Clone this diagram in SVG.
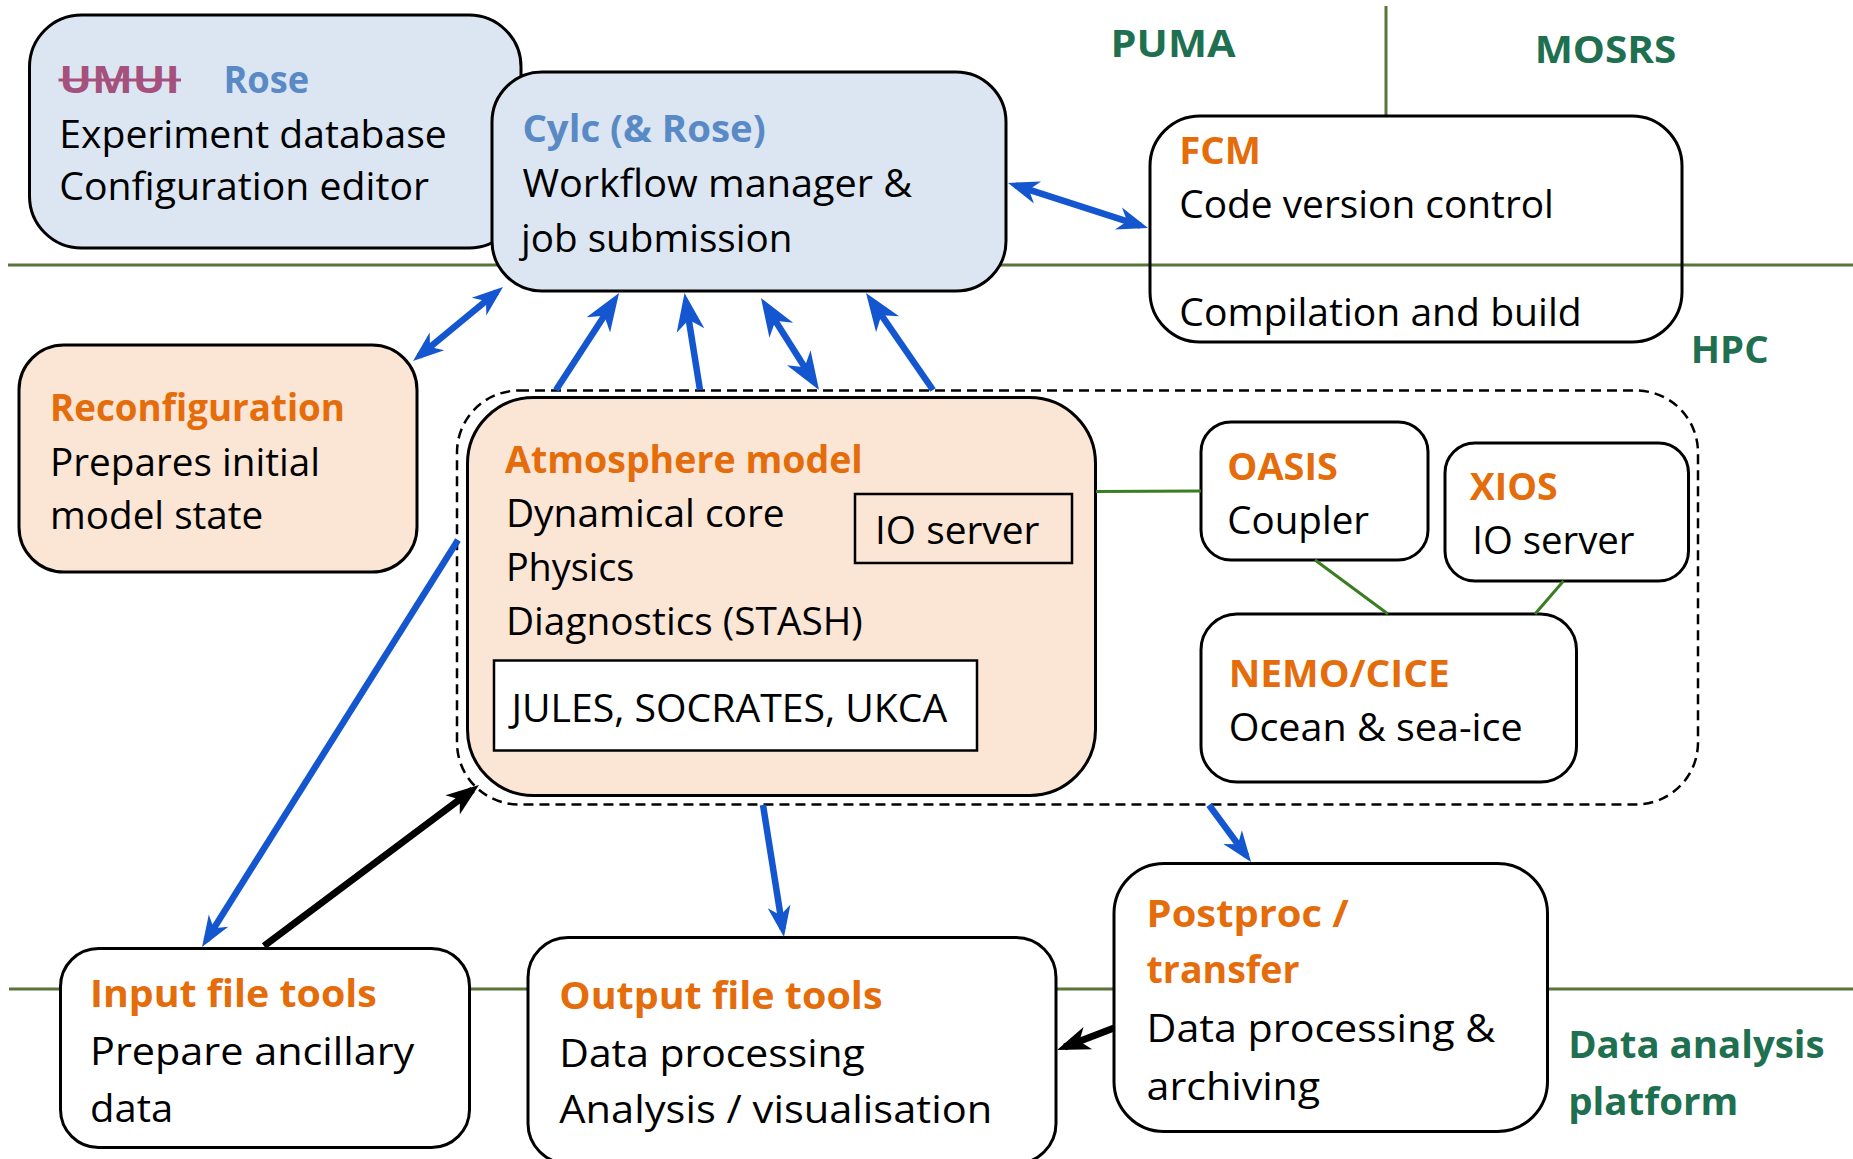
<svg xmlns="http://www.w3.org/2000/svg" width="1853" height="1159" viewBox="0 0 1853 1159">
<style>
text{font-family:"Open Sans","Noto Sans","Liberation Sans",sans-serif;font-size:38px;fill:#000}
.t{font-weight:700;fill:#e46c0a}
.b{font-weight:700;fill:#5a8ac6}
.g{font-weight:700;fill:#1f7050}
.u{font-weight:700;fill:#a5517e}
.box{stroke:#000;stroke-width:3}
.bl{fill:#dce6f2}
.pe{fill:#fbe5d5}
.wh{fill:#fff}
.zone{stroke:#587438;stroke-width:3;fill:none}
.gc{stroke:#3a7d22;stroke-width:3;fill:none}
.ba{stroke:#1456cf;stroke-width:6.5;fill:none}
.ka{stroke:#000;stroke-width:7;fill:none}
</style>
<defs>
<marker id="hb" markerUnits="userSpaceOnUse" markerWidth="60" markerHeight="40" viewBox="-40 -20 60 40" refX="0" refY="0" orient="auto-start-reverse" overflow="visible">
<path d="M8,0 L-23,-11.5 L-14,0 L-23,11.5 Z" fill="#1456cf"/>
</marker>
<marker id="hB" markerUnits="userSpaceOnUse" markerWidth="60" markerHeight="40" viewBox="-40 -20 60 40" refX="0" refY="0" orient="auto-start-reverse" overflow="visible">
<path d="M10,0 L-28,-14 L-17,0 L-28,14 Z" fill="#1456cf"/>
</marker>
<marker id="hk" markerUnits="userSpaceOnUse" markerWidth="60" markerHeight="40" viewBox="-40 -20 60 40" refX="0" refY="0" orient="auto-start-reverse" overflow="visible">
<path d="M8,0 L-25,-12 L-16,0 L-25,12 Z" fill="#000"/>
</marker>
</defs>

<g id="zones">
<line class="zone" x1="8" y1="265" x2="1853" y2="265"/>
<line class="zone" x1="9" y1="989" x2="1853" y2="989"/>
<line class="zone" x1="1386" y1="6" x2="1386" y2="116"/>
<text class="g" x="1110.6" y="57" textLength="124.9" lengthAdjust="spacingAndGlyphs">PUMA</text>
<text class="g" x="1534.7" y="63" textLength="141.7" lengthAdjust="spacingAndGlyphs">MOSRS</text>
<text class="g" x="1690.8" y="362.7" textLength="77.8" lengthAdjust="spacingAndGlyphs">HPC</text>
<text class="g" x="1568.2" y="1058.3" textLength="256.4" lengthAdjust="spacingAndGlyphs">Data analysis</text>
<text class="g" x="1568.2" y="1115" textLength="170.1" lengthAdjust="spacingAndGlyphs">platform</text>
</g>

<g id="rose">
<rect class="box bl" x="29.5" y="15" width="491.5" height="233" rx="52"/>
<text class="u" x="59.3" y="93" textLength="120.6" lengthAdjust="spacingAndGlyphs">UMUI</text>
<line x1="58.5" y1="80" x2="181" y2="80" stroke="#a5517e" stroke-width="3"/>
<text class="b" x="223.4" y="93" textLength="85.8" lengthAdjust="spacingAndGlyphs">Rose</text>
<text x="59.3" y="148" textLength="387.5" lengthAdjust="spacingAndGlyphs">Experiment database</text>
<text x="59.3" y="200" textLength="369.7" lengthAdjust="spacingAndGlyphs">Configuration editor</text>
</g>

<g id="cylc">
<rect class="box bl" x="492" y="72" width="514" height="219" rx="50"/>
<text class="b" x="522.4" y="141.7" textLength="243.3" lengthAdjust="spacingAndGlyphs">Cylc (&amp; Rose)</text>
<text x="522.4" y="196.7" textLength="389.7" lengthAdjust="spacingAndGlyphs">Workflow manager &amp;</text>
<text x="521" y="251.7" textLength="271.4" lengthAdjust="spacingAndGlyphs">job submission</text>
</g>

<g id="fcm">
<rect class="box" fill="none" x="1150" y="116" width="532" height="226" rx="50"/>
<text class="t" x="1179.3" y="164" textLength="81.6" lengthAdjust="spacingAndGlyphs">FCM</text>
<text x="1179.3" y="218" textLength="374.6" lengthAdjust="spacingAndGlyphs">Code version control</text>
<text x="1179.3" y="326" textLength="402.4" lengthAdjust="spacingAndGlyphs">Compilation and build</text>
</g>

<g id="reconfiguration">
<rect class="box pe" x="19" y="345" width="398" height="227" rx="45"/>
<text class="t" x="50" y="420.7" textLength="295" lengthAdjust="spacingAndGlyphs">Reconfiguration</text>
<text x="50" y="475.7" textLength="270" lengthAdjust="spacingAndGlyphs">Prepares initial</text>
<text x="50" y="529.3" textLength="213.3" lengthAdjust="spacingAndGlyphs">model state</text>
</g>

<g id="coupled-model">
<rect x="457" y="390.5" width="1241" height="414" rx="62" fill="none" stroke="#000" stroke-width="2.5" stroke-dasharray="10 6"/>
</g>

<g id="atmosphere">
<rect class="box pe" x="467.5" y="397.5" width="628" height="398" rx="66"/>
<text class="t" x="505" y="472.7" textLength="357.8" lengthAdjust="spacingAndGlyphs">Atmosphere model</text>
<text x="505.9" y="526.7" textLength="278.8" lengthAdjust="spacingAndGlyphs">Dynamical core</text>
<text x="505.9" y="580.7" textLength="128.4" lengthAdjust="spacingAndGlyphs">Physics</text>
<text x="505.9" y="635" textLength="356.9" lengthAdjust="spacingAndGlyphs">Diagnostics (STASH)</text>
<rect class="pe" x="855" y="494" width="217" height="69" stroke="#000" stroke-width="2.5"/>
<text x="875" y="544.3" textLength="164.4" lengthAdjust="spacingAndGlyphs">IO server</text>
<rect class="wh" x="494" y="660.5" width="483" height="90" stroke="#000" stroke-width="2.5"/>
<text x="511.5" y="721.7" textLength="435.8" lengthAdjust="spacingAndGlyphs">JULES, SOCRATES, UKCA</text>
</g>

<g id="oasis">
<rect class="box wh" x="1201" y="422" width="227" height="138" rx="30"/>
<text class="t" x="1227.3" y="480" textLength="110.5" lengthAdjust="spacingAndGlyphs">OASIS</text>
<text x="1227.3" y="534" textLength="141.7" lengthAdjust="spacingAndGlyphs">Coupler</text>
</g>

<g id="xios">
<rect class="box wh" x="1445" y="443" width="243.5" height="138" rx="30"/>
<text class="t" x="1469.8" y="500" textLength="87.9" lengthAdjust="spacingAndGlyphs">XIOS</text>
<text x="1472.2" y="554" textLength="162.3" lengthAdjust="spacingAndGlyphs">IO server</text>
</g>

<g id="nemo-cice">
<rect class="box wh" x="1201" y="614" width="375.5" height="168" rx="36"/>
<text class="t" x="1228.7" y="686.7" textLength="221" lengthAdjust="spacingAndGlyphs">NEMO/CICE</text>
<text x="1228.7" y="741" textLength="294" lengthAdjust="spacingAndGlyphs">Ocean &amp; sea-ice</text>
</g>

<g id="input-file-tools">
<rect class="box wh" x="60.5" y="948.5" width="409" height="199" rx="38"/>
<text class="t" x="90" y="1006.7" textLength="286.8" lengthAdjust="spacingAndGlyphs">Input file tools</text>
<text x="90" y="1065" textLength="324.3" lengthAdjust="spacingAndGlyphs">Prepare ancillary</text>
<text x="90" y="1121.7" textLength="83.2" lengthAdjust="spacingAndGlyphs">data</text>
</g>

<g id="output-file-tools">
<rect class="box wh" x="528" y="937.5" width="528" height="226" rx="40"/>
<text class="t" x="559.3" y="1009.3" textLength="323.2" lengthAdjust="spacingAndGlyphs">Output file tools</text>
<text x="559.3" y="1067.3" textLength="305.4" lengthAdjust="spacingAndGlyphs">Data processing</text>
<text x="559.3" y="1123.3" textLength="432.9" lengthAdjust="spacingAndGlyphs">Analysis / visualisation</text>
</g>

<g id="postproc">
<rect class="box wh" x="1114" y="863.5" width="433.5" height="268" rx="50"/>
<text class="t" x="1146.6" y="926.7" textLength="202.2" lengthAdjust="spacingAndGlyphs">Postproc /</text>
<text class="t" x="1146.6" y="983.3" textLength="152.9" lengthAdjust="spacingAndGlyphs">transfer</text>
<text x="1146.6" y="1041.7" textLength="348.6" lengthAdjust="spacingAndGlyphs">Data processing &amp;</text>
<text x="1146.6" y="1100" textLength="173.6" lengthAdjust="spacingAndGlyphs">archiving</text>
</g>

<g id="connectors">
<line class="gc" x1="1096" y1="491.5" x2="1201" y2="491"/>
<line class="gc" x1="1315" y1="560" x2="1388" y2="614"/>
<line class="gc" x1="1563.5" y1="581" x2="1535" y2="614"/>
<path class="ba" d="M1015.6,185.4 L1140.4,225.6" marker-start="url(#hb)" marker-end="url(#hb)"/>
<path class="ba" d="M496.8,292.1 L419.2,355.9" marker-start="url(#hb)" marker-end="url(#hb)"/>
<path class="ba" d="M556,390 L613.6,301.4" marker-end="url(#hB)"/>
<path class="ba" d="M700,390 L686.1,302.9" marker-end="url(#hB)"/>
<path class="ba" d="M766.3,306.5 L813.7,381.5" marker-start="url(#hB)" marker-end="url(#hB)"/>
<path class="ba" d="M933,390 L871.7,301.2" marker-end="url(#hB)"/>
<path class="ba" d="M458,540 L206.3,940.2" marker-end="url(#hb)"/>
<path class="ka" d="M264,946 L472.6,789.8" marker-end="url(#hk)"/>
<path class="ba" d="M763,805 L782.7,929.1" marker-end="url(#hb)"/>
<path class="ba" d="M1209,805 L1246.3,855.6" marker-end="url(#hb)"/>
<path class="ka" d="M1114,1028 L1064.5,1047.1" marker-end="url(#hk)"/>
</g>
</svg>
